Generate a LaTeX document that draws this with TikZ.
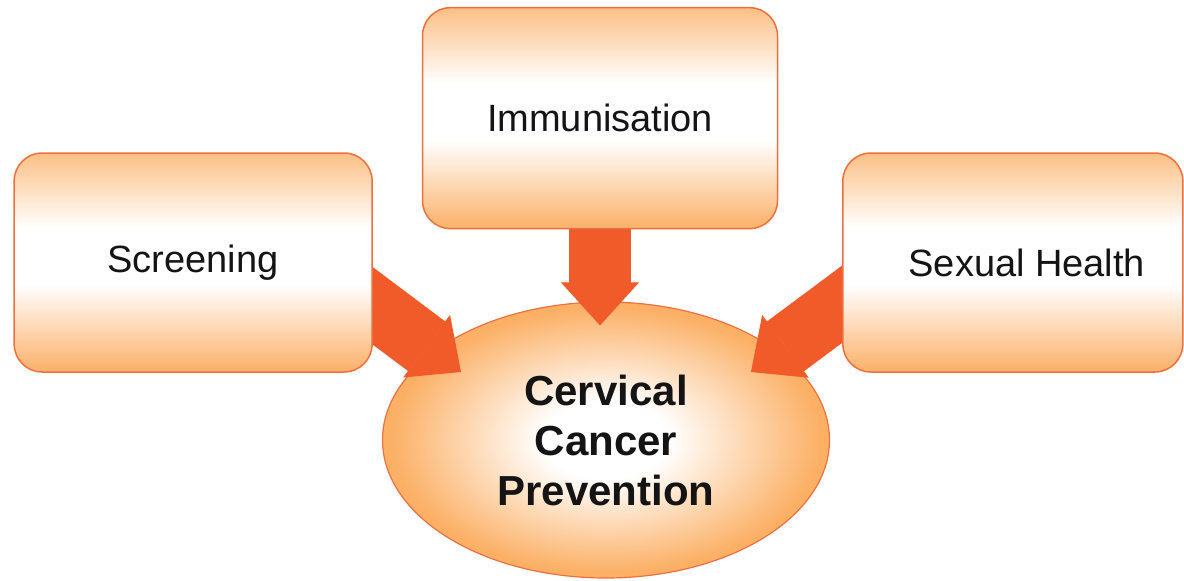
\documentclass[tikz,border=0pt]{standalone}
\usepackage{fontspec}
\setmainfont{Liberation Sans}
\usepackage{xcolor}
\usetikzlibrary{shapes}
\usetikzlibrary{arrows.meta}
\usetikzlibrary{positioning}
\definecolor{boxorange}{RGB}{251,180,112}
\definecolor{ellorange}{RGB}{251,176,102}
\definecolor{edgeorange}{RGB}{238,112,62}
\definecolor{arroworange}{RGB}{241,90,41}
\pgfdeclarelayer{front}
\pgfsetlayers{main,front}
\pgfdeclareverticalshading{boxshade}{100bp}{color(0bp)=(boxorange); color(26bp)=(boxorange);
  color(45bp)=(white); color(58bp)=(white); color(75bp)=(boxorange!85!white); color(100bp)=(boxorange!85!white)}
\pgfdeclareradialshading{ellshade}{\pgfpoint{0bp}{0bp}}{color(0bp)=(white); color(7bp)=(white);
  color(24bp)=(ellorange); color(50bp)=(ellorange)}
\tikzstyle{topic} = [rectangle, rounded corners=28pt, draw=edgeorange, line width=1.5pt,
shading=boxshade, text=black!92, font=\fontsize{38}{46}\selectfont, inner sep=0pt]
\tikzstyle{goal} = [ellipse, draw=edgeorange, line width=1.2pt, shading=ellshade, text=black!92,
font=\fontsize{42}{50}\selectfont\bfseries, align=center, inner sep=0pt,
minimum width=447pt, minimum height=276pt]
\tikzstyle{feed} = [arroworange, line width=62pt,
-{Triangle[width=78pt, length=43pt, line width=1pt]}]

\begin{document}
\begin{tikzpicture}[x=1pt, y=-1pt]
  \useasboundingbox (0,0) rectangle (1184,581);
  % goal
  \node[goal] at (606,440) (cancer) {Cervical\\Cancer\\Prevention};
  % topics
  \begin{pgfonlayer}{front}
  \node[topic, above = 72pt of cancer, xshift = -6pt, minimum width=355pt, minimum height=221pt] (imm) {Immunisation};
  \node[topic, left = 9pt of cancer, yshift = 177.5pt, minimum width=358pt, minimum height=219pt] (scr) {Screening};
  \node[topic, right = 12pt of cancer, yshift = 177.5pt, minimum width=340pt, minimum height=219pt] (sex) {\hspace*{28pt}Sexual Health};
  \end{pgfonlayer}

  % arrows
  \draw[feed, shorten >=-24pt] (imm.south) -- (imm.south |- cancer.north);
  \draw[feed] ([xshift=-44pt, yshift=-10.5pt]scr.east) -- ([xshift=-145pt, yshift=68pt]cancer.center);
  \draw[feed] ([xshift=44pt, yshift=-9pt]sex.west) -- ([xshift=145pt, yshift=68pt]cancer.center);
\end{tikzpicture}
\end{document}
